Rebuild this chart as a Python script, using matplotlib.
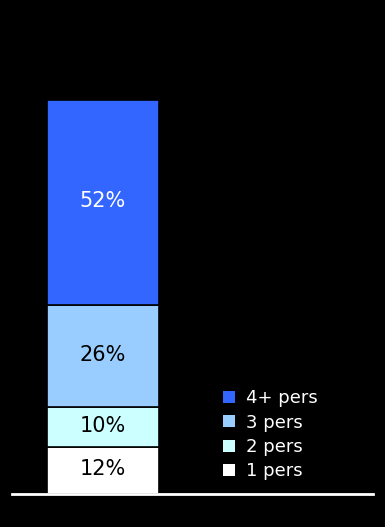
import matplotlib
matplotlib.use("Agg")
import matplotlib.pyplot as plt
from matplotlib.patches import Patch

# household size shares (bottom to top)
categories = ["1 pers", "2 pers", "3 pers", "4+ pers"]
shares = [12, 10, 26, 52]
colors = ["#FFFFFF", "#CCFFFF", "#99CCFF", "#3366FF"]
label_colors = ["black", "black", "black", "white"]

fig = plt.figure(figsize=(3.85, 5.27), dpi=100, facecolor="black")
ax = fig.add_axes([12 / 385, 33 / 527, 361 / 385, 394 / 527])
ax.set_facecolor("black")
ax.set_xlim(0, 1)
ax.set_ylim(0, 100)

x = 0.252
width = 0.31
bottom = 0
for cat, val, col, tc in zip(categories, shares, colors, label_colors):
    ax.bar(x, val, width=width, bottom=bottom, color=col, edgecolor="black",
           linewidth=1.2)
    ax.text(x, bottom + val / 2 + 0.3, f"{val}%", ha="center", va="center",
            fontsize=15, color=tc)
    bottom += val

# baseline
ax.axhline(0, color="white", linewidth=2, clip_on=False)

for s in ax.spines.values():
    s.set_visible(False)
ax.set_xticks([])
ax.set_yticks([])

handles = [Patch(facecolor=c, edgecolor="none") for c in colors][::-1]
leg = ax.legend(handles, categories[::-1], loc="lower left",
                bbox_to_anchor=(202 / 361, 0.012), frameon=False,
                fontsize=13, handlelength=0.65, handleheight=0.65,
                handletextpad=0.6, labelspacing=0.35, borderaxespad=0.1)
for t in leg.get_texts():
    t.set_color("white")

fig.savefig("out.png", dpi=100, facecolor="black")
